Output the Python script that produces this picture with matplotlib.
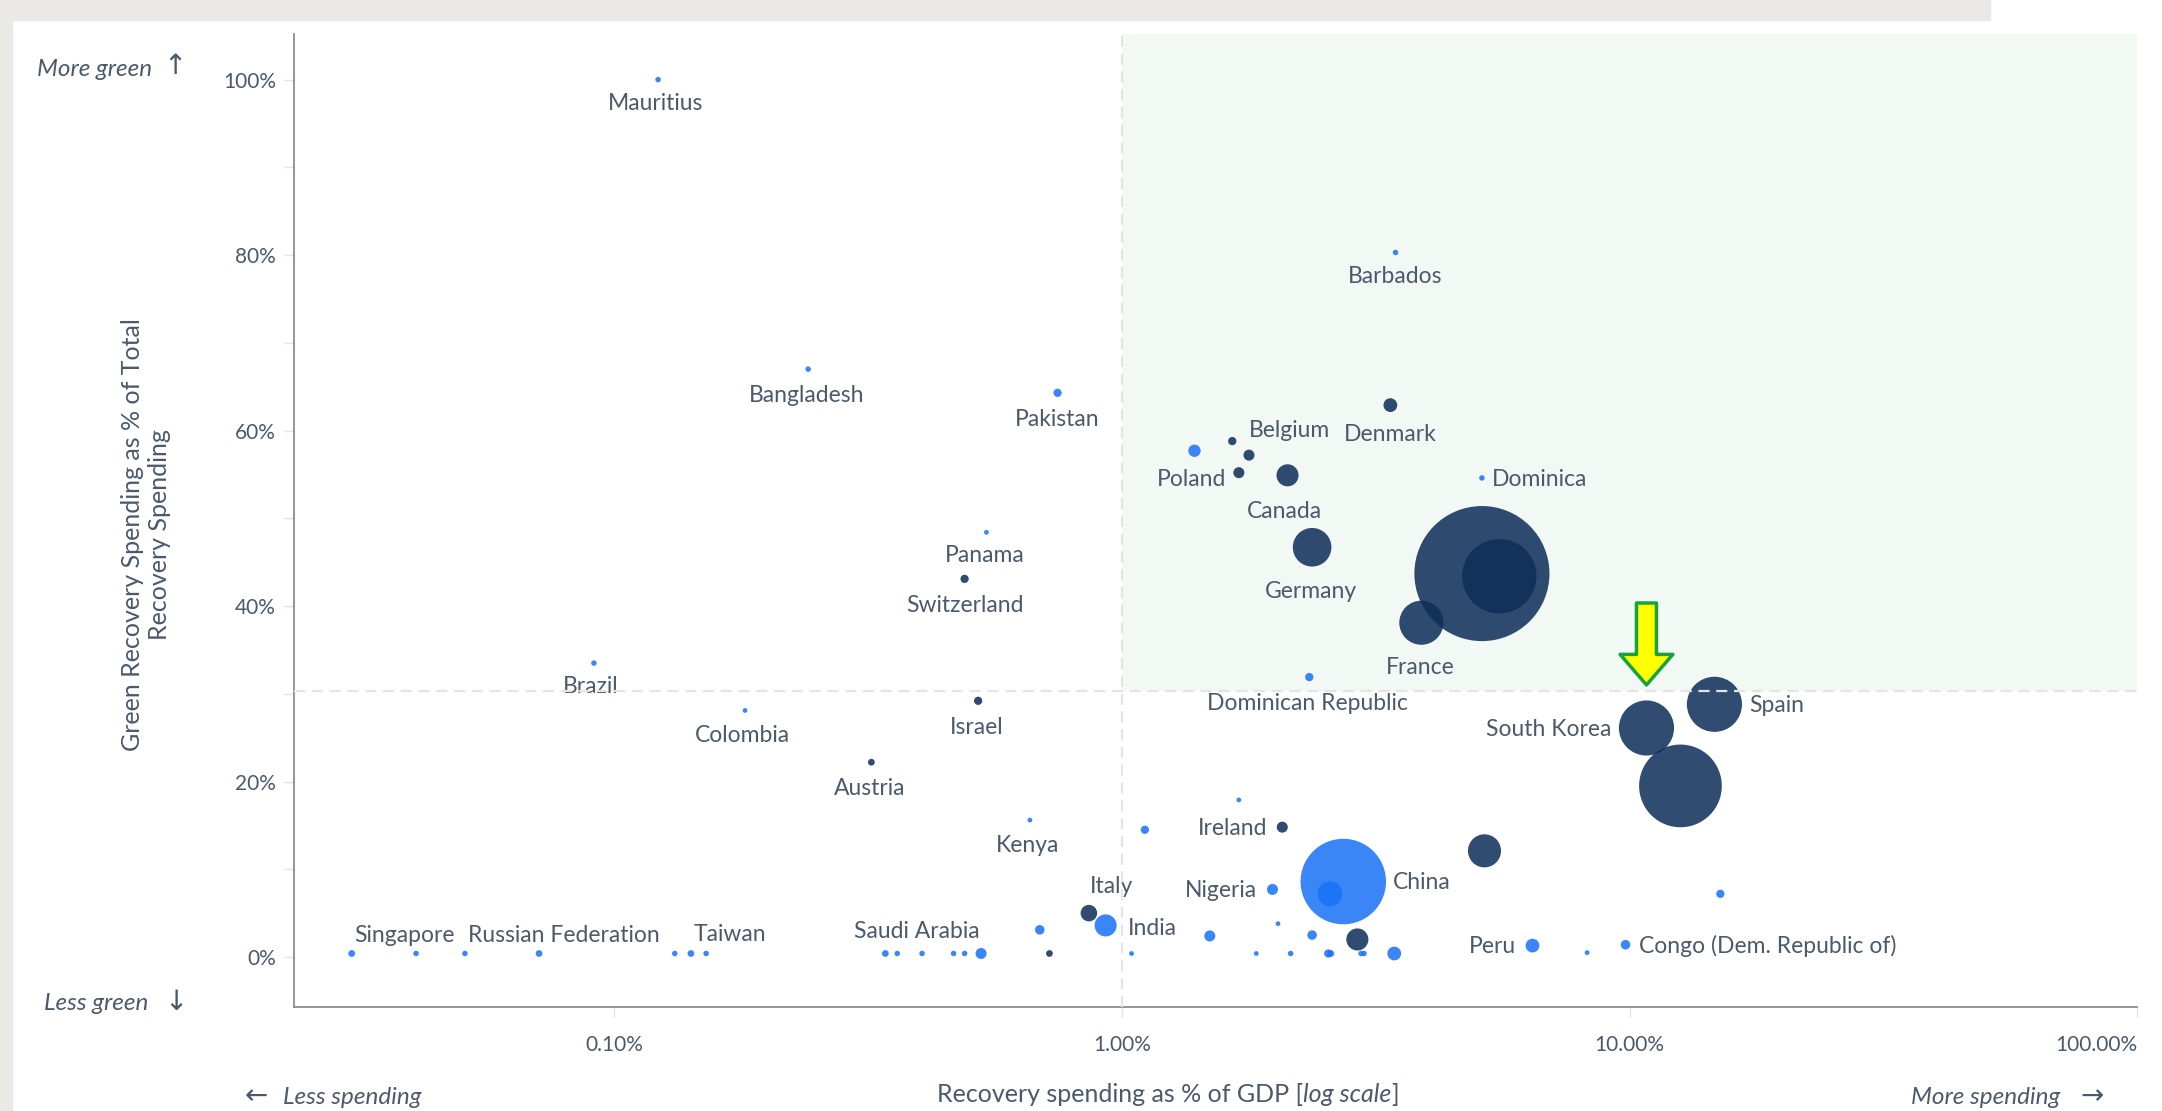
import numpy as np
import matplotlib.pyplot as plt

# Data: recovery spending (% of GDP), green share (% of total), bubble size, colour group
countries = ["Mauritius", "Barbados", "Bangladesh", "Pakistan", "Denmark", "Belgium", "", "",
             "Poland", "Canada", "Dominica", "Germany", "", "", "France", "Panama", "Switzerland",
             "Brazil", "Colombia", "Israel", "Austria", "Dominican Republic", "South Korea", "Spain", "",
             "Kenya", "", "", "Ireland", "", "China", "", "Nigeria", "Italy", "India", "", "", "", "",
             "Peru", "", "Congo (Dem. Republic of)", "", "",
             "", "Singapore", "", "Russian Federation", "", "", "Taiwan", "", "", "Saudi Arabia",
             "", "", "", "", "", "", "", "", "", "", "", ""]
spend_gdp = [0.122, 3.46, 0.241, 0.747, 3.38, 1.78, 1.65, 1.70,
             1.39, 2.12, 5.12, 2.37, 5.12, 5.54, 3.89, 0.541, 0.490,
             0.0912, 0.181, 0.521, 0.321, 2.34, 10.8, 14.7, 12.6,
             0.659, 1.11, 1.70, 2.07, 5.18, 2.73, 2.57, 1.98, 0.861, 0.929, 1.49, 2.03, 2.37, 2.91,
             6.44, 8.25, 9.82, 15.1, 0.689,
             0.0304, 0.0407, 0.0508, 0.0711, 0.1316, 0.1416, 0.1517, 0.342, 0.361, 0.404,
             0.466, 0.490, 0.528, 0.720, 1.045, 1.84, 2.15, 2.55, 2.58, 2.96, 3.00, 3.44]
green_share = [100.0, 80.3, 67.0, 64.3, 62.9, 57.2, 58.8, 55.2,
               57.7, 54.9, 54.6, 46.7, 43.7, 43.4, 38.1, 48.4, 43.1,
               33.5, 28.1, 29.2, 22.2, 31.9, 26.1, 28.8, 19.5,
               15.6, 14.5, 17.9, 14.8, 12.1, 8.6, 7.2, 7.7, 5.0, 3.6, 2.4, 3.8, 2.5, 2.0,
               1.3, 0.5, 1.4, 7.2, 3.1,
               0.4, 0.4, 0.4, 0.4, 0.4, 0.4, 0.4, 0.4, 0.4, 0.4,
               0.4, 0.4, 0.4, 0.4, 0.4, 0.4, 0.4, 0.4, 0.4, 0.4, 0.4, 0.4]
total_spend = [4, 4, 4, 9, 25, 16, 9, 16,
               20, 64, 4, 196, 2401, 729, 256, 3, 9,
               4, 3, 9, 6, 9, 400, 400, 900,
               3, 9, 3, 16, 144, 961, 81, 16, 36, 64, 16, 3, 12, 64,
               25, 3, 12, 9, 12,
               6, 4, 4, 6, 4, 6, 4, 6, 4, 4,
               4, 4, 16, 6, 3, 3, 4, 9, 6, 4, 4, 25]
group = ["L", "L", "L", "L", "D", "D", "D", "D",
         "L", "D", "L", "D", "D", "D", "D", "L", "D",
         "L", "L", "D", "D", "L", "D", "D", "D",
         "L", "L", "L", "D", "D", "L", "L", "L", "D", "L", "L", "L", "L", "D",
         "L", "L", "L", "L", "L",
         "L", "L", "L", "L", "L", "L", "L", "L", "L", "L",
         "L", "L", "L", "D", "L", "L", "L", "L", "L", "L", "L", "L"]

x_threshold = 1.0
y_threshold = 30.3

# label placement (offset points, alignment)
label_pos = {
    "Mauritius": (-2, -17, "center"), "Barbados": (0, -17, "center"),
    "Bangladesh": (-1, -19, "center"), "Pakistan": (0, -19, "center"),
    "Denmark": (0, -21, "center"), "Belgium": (0, 18, "left"),
    "Poland": (-2, -21, "center"), "Canada": (-2, -26, "center"),
    "Dominica": (7, -1, "left"), "Germany": (-1, -32, "center"),
    "France": (-1, -32, "center"), "Panama": (-1, -17, "center"),
    "Switzerland": (0, -19, "center"), "Brazil": (-2, -17, "center"),
    "Colombia": (-2, -18, "center"), "Israel": (-1, -19, "center"),
    "Austria": (-1, -19, "center"), "Dominican Republic": (-1, -19, "center"),
    "South Korea": (-25, -1, "right"), "Spain": (25, -1, "left"),
    "Kenya": (-2, -18, "center"), "Ireland": (-11, -1, "right"),
    "China": (36, -1, "left"), "Nigeria": (-11, -1, "right"),
    "Italy": (16, 19, "center"), "India": (16, -2, "left"),
    "Saudi Arabia": (-4, 16, "center"), "Peru": (-12, -1, "right"),
    "Congo (Dem. Republic of)": (10, -1, "left"), "Singapore": (-8, 13, "center"),
    "Russian Federation": (18, 13, "center"), "Taiwan": (17, 14, "center"),
}

text_col = "#4b596d"
fonts = ["Lato", "DejaVu Sans"]
plt.rcParams["font.family"] = fonts

fig = plt.figure(figsize=(21.62, 11.11), dpi=100)
# screenshot frame
fig.patches.append(plt.Rectangle((0, 0), 12 / 2162, 1, transform=fig.transFigure, color="#ebe9e5", zorder=0))
fig.patches.append(plt.Rectangle((0, 1 - 20 / 1111), 1990 / 2162, 20 / 1111, transform=fig.transFigure,
                                 color="#ebe9e5", zorder=0))

ax = fig.add_axes([0.136, 0.0936, 0.8525, 0.8758])
ax.set_xscale("log")
ax.set_xlim(0.0234, 100)
ax.set_ylim(-5.7, 105.2)

ax.fill_between([x_threshold, 100], y_threshold, 105.2, color="#f2f8f4", zorder=0, lw=0)

x = np.array(spend_gdp)
y = np.array(green_share)
s = np.array(total_spend) * 3.94
cols = np.where(np.array(group) == "D", "#0e2e59", "#1a72f6")
ax.scatter(x, y, s=s, c=cols, alpha=0.86, linewidths=0, zorder=2)

for name, xi, yi in zip(countries, spend_gdp, green_share):
    if not name:
        continue
    dx, dy, ha = label_pos[name]
    ax.annotate(name, (xi, yi), xytext=(dx, dy), textcoords="offset points",
                ha=ha, va="center", fontsize=16.5, color=text_col, zorder=3)

ax.axvline(x_threshold, color="#e4e4e4", lw=1.6, ls=(0, (5, 3)), zorder=4)
ax.axhline(y_threshold, color="#e4e4e4", lw=1.6, ls=(0, (5, 3)), zorder=4)

# highlight arrow on South Korea
sk = countries.index("South Korea")
ax.annotate("", xy=(spend_gdp[sk], green_share[sk]), xytext=(0, 90), textcoords="offset points",
            arrowprops=dict(arrowstyle="simple,head_width=1.9,head_length=1.1,tail_width=0.72",
                            fc="#ffff00", ec="#17a33b", lw=2.5, shrinkA=0, shrinkB=31,
                            mutation_scale=20),
            zorder=5)

for side in ["top", "right"]:
    ax.spines[side].set_visible(False)
for side in ["left", "bottom"]:
    ax.spines[side].set_color("#8c8c8c")
    ax.spines[side].set_linewidth(1.3)

ax.set_yticks([0, 20, 40, 60, 80, 100])
ax.set_yticklabels(["0%", "20%", "40%", "60%", "80%", "100%"])
ax.set_yticks([10, 30, 50, 70, 90], minor=True)
ax.set_xticks([0.1, 1, 10, 100])
ax.set_xticklabels(["0.10%", "1.00%", "10.00%", "100.00%"])
ax.xaxis.set_minor_locator(plt.NullLocator())
ax.tick_params(axis="both", which="both", colors="#e3e3e3", labelcolor=text_col, labelsize=15,
               length=7, width=1)
ax.tick_params(axis="y", pad=6)
ax.tick_params(axis="x", pad=13)
ax.get_xticklabels()[-1].set_ha("right")

fig.text(146 / 2162, 1 - 535 / 1111, "Green Recovery Spending as % of Total\nRecovery Spending",
         rotation=90, ha="center", va="center", fontsize=18, color=text_col, linespacing=1.2)

# x axis title in three pieces, centred afterwards
xl = fig.text(0, 1 - 1095 / 1111, "Recovery spending as % of GDP [", ha="left",
              va="center", fontsize=18, color=text_col)
xl2 = ax.annotate("log scale", xy=(1, 0), xycoords=xl, va="bottom", ha="left", fontsize=18,
                  color=text_col, style="italic")
xl3 = ax.annotate("]", xy=(1, 0), xycoords=xl2, va="bottom", ha="left", fontsize=18, color=text_col)
fig.canvas.draw()
w = xl.get_window_extent().width + xl2.get_window_extent().width + xl3.get_window_extent().width
xl.set_x((1168 - w / 2) / 2162)

fig.text(37 / 2162, 1 - 69 / 1111, "More green", style="italic", fontsize=17.5, color=text_col, va="center")
fig.text(163 / 2162, 1 - 66 / 1111, "↑", fontsize=20, color=text_col, va="center", family="DejaVu Sans")
fig.text(44 / 2162, 1 - 1004 / 1111, "Less green", style="italic", fontsize=17.5, color=text_col, va="center")
fig.text(164 / 2162, 1 - 1002 / 1111, "↓", fontsize=20, color=text_col, va="center", family="DejaVu Sans")
fig.text(245 / 2162, 1 - 1096 / 1111, "←", fontsize=20, color=text_col, va="center", family="DejaVu Sans")
fig.text(283 / 2162, 1 - 1098 / 1111, "Less spending", style="italic", fontsize=17.5, color=text_col, va="center")
fig.text(1911 / 2162, 1 - 1098 / 1111, "More spending", style="italic", fontsize=17.5, color=text_col, va="center")
fig.text(2080 / 2162, 1 - 1096 / 1111, "→", fontsize=20, color=text_col, va="center", family="DejaVu Sans")

fig.savefig("out.png", dpi=100)
